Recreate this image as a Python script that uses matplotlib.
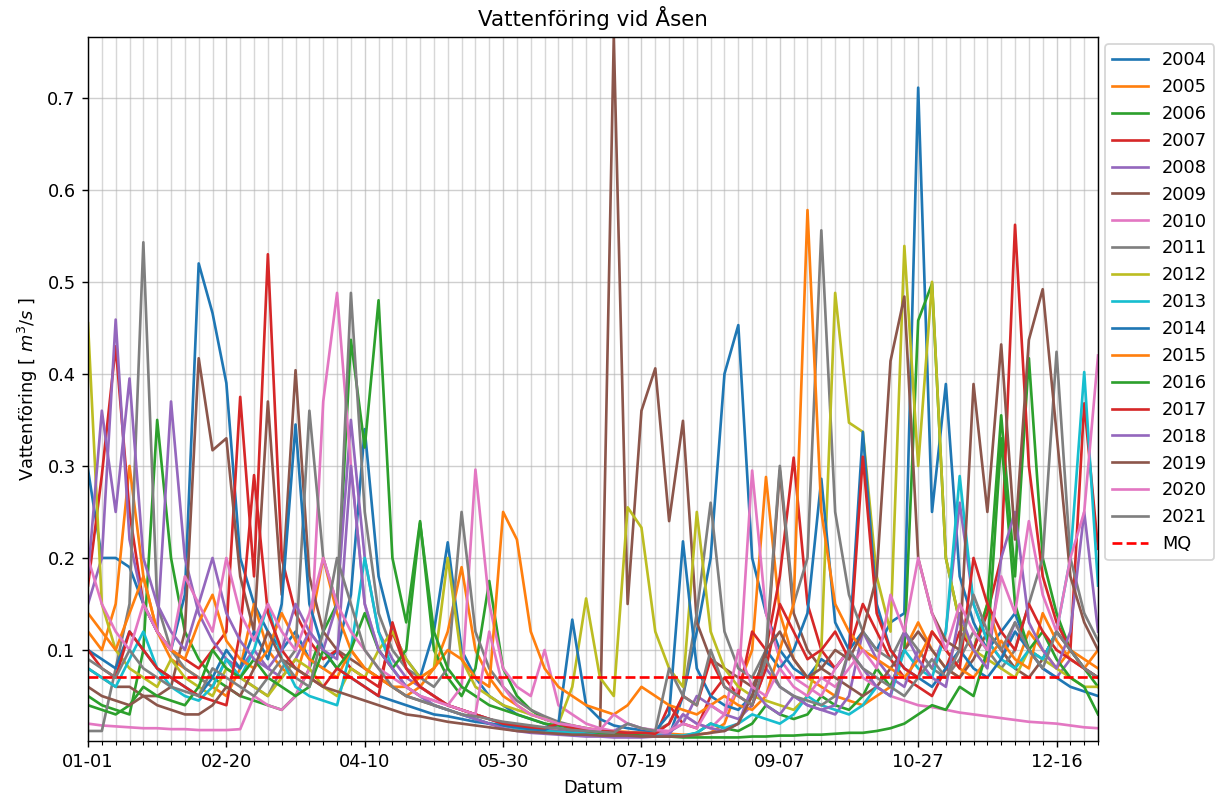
import matplotlib

matplotlib.use("Agg")
import matplotlib.pyplot as plt
import numpy as np
import pandas as pd
from matplotlib.ticker import MultipleLocator

OUTPUT_PNG = "out.png"

# day of year (0 = 01-01), one reading every 5 days
DAYS = list(range(0, 366, 5))
DATE_LABELS = list(pd.date_range("2004-01-01", periods=366).strftime("%m-%d"))

YEARS = [str(y) for y in range(2004, 2022)]

q2004 = [0.296, 0.20, 0.20, 0.19, 0.15, 0.12, 0.10, 0.16, 0.52, 0.466,
         0.39, 0.20, 0.15, 0.12, 0.10, 0.12, 0.09, 0.08, 0.10, 0.16,
         0.34, 0.18, 0.12, 0.09, 0.07, 0.12, 0.217, 0.10, 0.07, 0.05,
         0.04, 0.03, 0.025, 0.02, 0.015, 0.012, 0.010, 0.009, 0.008, 0.008,
         0.007, 0.006, 0.006, 0.05, 0.12, 0.20, 0.40, 0.453, 0.20, 0.14,
         0.10, 0.08, 0.07, 0.09, 0.08, 0.10, 0.12, 0.10, 0.13, 0.14,
         0.711, 0.25, 0.389, 0.18, 0.13, 0.10, 0.12, 0.14, 0.10, 0.09,
         0.12, 0.10, 0.08, 0.07]
q2005 = [0.12, 0.10, 0.15, 0.30, 0.18, 0.12, 0.09, 0.08, 0.07, 0.06,
         0.05, 0.08, 0.15, 0.10, 0.08, 0.07, 0.12, 0.20, 0.14, 0.10,
         0.08, 0.07, 0.06, 0.05, 0.06, 0.08, 0.12, 0.19, 0.10, 0.07,
         0.05, 0.04, 0.03, 0.025, 0.02, 0.018, 0.015, 0.013, 0.012, 0.011,
         0.010, 0.009, 0.009, 0.008, 0.008, 0.010, 0.020, 0.060, 0.10, 0.288,
         0.14, 0.09, 0.07, 0.06, 0.05, 0.045, 0.04, 0.05, 0.06, 0.10,
         0.13, 0.10, 0.08, 0.07, 0.10, 0.15, 0.10, 0.08, 0.12, 0.10,
         0.08, 0.10, 0.09, 0.08]
q2006 = [0.05, 0.04, 0.035, 0.03, 0.10, 0.35, 0.20, 0.12, 0.09, 0.07,
         0.06, 0.05, 0.045, 0.04, 0.035, 0.05, 0.08, 0.12, 0.15, 0.437,
         0.32, 0.48, 0.20, 0.13, 0.24, 0.10, 0.07, 0.05, 0.08, 0.175,
         0.08, 0.05, 0.035, 0.025, 0.02, 0.015, 0.012, 0.010, 0.009, 0.008,
         0.007, 0.007, 0.006, 0.006, 0.010, 0.020, 0.015, 0.012, 0.020, 0.040,
         0.030, 0.025, 0.030, 0.050, 0.040, 0.035, 0.050, 0.080, 0.060, 0.10,
         0.458, 0.498, 0.20, 0.13, 0.10, 0.15, 0.355, 0.18, 0.417, 0.20,
         0.14, 0.10, 0.08, 0.06]
q2007 = [0.17, 0.29, 0.43, 0.25, 0.15, 0.12, 0.10, 0.09, 0.08, 0.10,
         0.12, 0.375, 0.18, 0.53, 0.20, 0.14, 0.11, 0.09, 0.10, 0.08,
         0.07, 0.06, 0.12, 0.08, 0.06, 0.05, 0.04, 0.035, 0.03, 0.025,
         0.02, 0.018, 0.015, 0.013, 0.012, 0.011, 0.010, 0.009, 0.009, 0.008,
         0.008, 0.007, 0.04, 0.02, 0.015, 0.05, 0.07, 0.05, 0.12, 0.10,
         0.18, 0.309, 0.15, 0.10, 0.08, 0.10, 0.15, 0.12, 0.09, 0.07,
         0.06, 0.05, 0.08, 0.12, 0.10, 0.14, 0.20, 0.562, 0.30, 0.18,
         0.13, 0.10, 0.368, 0.21]
q2008 = [0.15, 0.20, 0.459, 0.22, 0.15, 0.12, 0.37, 0.20, 0.14, 0.11,
         0.09, 0.08, 0.10, 0.08, 0.07, 0.09, 0.12, 0.10, 0.15, 0.35,
         0.20, 0.12, 0.09, 0.07, 0.06, 0.05, 0.04, 0.035, 0.03, 0.025,
         0.02, 0.018, 0.015, 0.013, 0.012, 0.011, 0.010, 0.010, 0.012, 0.020,
         0.015, 0.012, 0.011, 0.020, 0.050, 0.040, 0.030, 0.025, 0.040, 0.080,
         0.06, 0.05, 0.04, 0.035, 0.03, 0.05, 0.12, 0.09, 0.07, 0.06,
         0.10, 0.08, 0.12, 0.26, 0.15, 0.11, 0.09, 0.13, 0.10, 0.08,
         0.07, 0.09, 0.08, 0.07]
q2009 = [0.08, 0.07, 0.06, 0.06, 0.05, 0.05, 0.06, 0.12, 0.417, 0.317,
         0.33, 0.18, 0.12, 0.37, 0.16, 0.404, 0.18, 0.12, 0.10, 0.09,
         0.08, 0.07, 0.06, 0.05, 0.045, 0.04, 0.035, 0.03, 0.025, 0.02,
         0.018, 0.015, 0.013, 0.012, 0.011, 0.010, 0.009, 0.009, 0.766, 0.15,
         0.36, 0.406, 0.24, 0.349, 0.13, 0.09, 0.08, 0.07, 0.06, 0.09,
         0.295, 0.14, 0.10, 0.08, 0.07, 0.06, 0.05, 0.06, 0.08, 0.10,
         0.12, 0.10, 0.08, 0.07, 0.09, 0.12, 0.10, 0.08, 0.07, 0.09,
         0.12, 0.10, 0.08, 0.07]
q2010 = [0.020, 0.018, 0.017, 0.016, 0.015, 0.015, 0.014, 0.014, 0.013, 0.013,
         0.013, 0.014, 0.050, 0.040, 0.035, 0.050, 0.080, 0.37, 0.488, 0.30,
         0.15, 0.10, 0.08, 0.06, 0.05, 0.045, 0.04, 0.06, 0.296, 0.15,
         0.08, 0.06, 0.05, 0.10, 0.04, 0.03, 0.02, 0.015, 0.012, 0.010,
         0.009, 0.008, 0.010, 0.030, 0.020, 0.015, 0.030, 0.060, 0.295, 0.14,
         0.09, 0.07, 0.06, 0.05, 0.08, 0.10, 0.07, 0.06, 0.05, 0.045,
         0.040, 0.038, 0.035, 0.032, 0.030, 0.028, 0.026, 0.024, 0.022, 0.021,
         0.020, 0.018, 0.016, 0.015]
q2011 = [0.012, 0.012, 0.08, 0.15, 0.543, 0.15, 0.10, 0.08, 0.07, 0.06,
         0.09, 0.07, 0.06, 0.05, 0.08, 0.10, 0.36, 0.20, 0.15, 0.488,
         0.25, 0.14, 0.10, 0.08, 0.07, 0.06, 0.08, 0.25, 0.12, 0.08,
         0.06, 0.045, 0.035, 0.028, 0.022, 0.018, 0.015, 0.012, 0.011, 0.010,
         0.010, 0.012, 0.020, 0.050, 0.14, 0.26, 0.12, 0.08, 0.07, 0.10,
         0.30, 0.15, 0.20, 0.556, 0.25, 0.16, 0.12, 0.10, 0.09, 0.12,
         0.10, 0.08, 0.07, 0.09, 0.12, 0.10, 0.08, 0.10, 0.15, 0.20,
         0.424, 0.20, 0.14, 0.11]
q2012 = [0.455, 0.15, 0.10, 0.08, 0.07, 0.06, 0.09, 0.07, 0.06, 0.05,
         0.08, 0.07, 0.06, 0.05, 0.07, 0.09, 0.08, 0.06, 0.05, 0.08,
         0.07, 0.10, 0.12, 0.09, 0.07, 0.08, 0.20, 0.09, 0.06, 0.05,
         0.04, 0.035, 0.03, 0.025, 0.02, 0.06, 0.156, 0.07, 0.05, 0.255,
         0.233, 0.12, 0.08, 0.06, 0.25, 0.12, 0.08, 0.06, 0.05, 0.045,
         0.04, 0.035, 0.05, 0.10, 0.488, 0.347, 0.337, 0.18, 0.12, 0.539,
         0.30, 0.50, 0.20, 0.13, 0.10, 0.09, 0.08, 0.07, 0.10, 0.09,
         0.08, 0.07, 0.06, 0.06]
q2013 = [0.08, 0.07, 0.06, 0.09, 0.12, 0.08, 0.06, 0.05, 0.045, 0.06,
         0.09, 0.07, 0.10, 0.15, 0.09, 0.06, 0.05, 0.045, 0.04, 0.10,
         0.20, 0.12, 0.08, 0.06, 0.05, 0.04, 0.035, 0.03, 0.025, 0.02,
         0.018, 0.015, 0.013, 0.012, 0.011, 0.010, 0.010, 0.009, 0.009, 0.008,
         0.008, 0.008, 0.007, 0.007, 0.010, 0.020, 0.015, 0.020, 0.030, 0.025,
         0.020, 0.030, 0.050, 0.040, 0.035, 0.030, 0.040, 0.060, 0.050, 0.10,
         0.08, 0.07, 0.12, 0.289, 0.15, 0.11, 0.09, 0.08, 0.10, 0.09,
         0.12, 0.20, 0.402, 0.17]
q2014 = [0.10, 0.09, 0.08, 0.12, 0.10, 0.08, 0.07, 0.06, 0.05, 0.07,
         0.10, 0.08, 0.12, 0.09, 0.15, 0.345, 0.15, 0.10, 0.08, 0.07,
         0.06, 0.05, 0.045, 0.04, 0.035, 0.03, 0.028, 0.025, 0.022, 0.02,
         0.018, 0.016, 0.014, 0.013, 0.02, 0.133, 0.04, 0.025, 0.018, 0.015,
         0.013, 0.012, 0.03, 0.218, 0.08, 0.05, 0.04, 0.035, 0.05, 0.10,
         0.08, 0.10, 0.14, 0.286, 0.13, 0.10, 0.337, 0.15, 0.10, 0.08,
         0.07, 0.06, 0.08, 0.10, 0.08, 0.07, 0.09, 0.12, 0.10, 0.08,
         0.07, 0.06, 0.055, 0.05]
q2015 = [0.14, 0.12, 0.10, 0.14, 0.18, 0.12, 0.10, 0.09, 0.13, 0.16,
         0.11, 0.09, 0.08, 0.10, 0.14, 0.11, 0.09, 0.08, 0.07, 0.10,
         0.08, 0.07, 0.06, 0.06, 0.07, 0.08, 0.10, 0.09, 0.07, 0.06,
         0.25, 0.22, 0.12, 0.08, 0.06, 0.05, 0.04, 0.035, 0.03, 0.04,
         0.06, 0.05, 0.04, 0.035, 0.03, 0.04, 0.05, 0.04, 0.035, 0.05,
         0.10, 0.15, 0.578, 0.25, 0.15, 0.12, 0.10, 0.09, 0.08, 0.07,
         0.09, 0.12, 0.10, 0.08, 0.07, 0.09, 0.11, 0.09, 0.08, 0.14,
         0.11, 0.09, 0.08, 0.10]
q2016 = [0.04, 0.035, 0.03, 0.04, 0.06, 0.05, 0.045, 0.04, 0.06, 0.10,
         0.08, 0.07, 0.09, 0.07, 0.06, 0.05, 0.06, 0.10, 0.08, 0.10,
         0.14, 0.10, 0.08, 0.10, 0.238, 0.12, 0.08, 0.06, 0.05, 0.04,
         0.035, 0.03, 0.025, 0.02, 0.018, 0.015, 0.012, 0.010, 0.009, 0.008,
         0.007, 0.006, 0.006, 0.005, 0.005, 0.005, 0.005, 0.005, 0.006, 0.006,
         0.007, 0.007, 0.008, 0.008, 0.009, 0.010, 0.010, 0.012, 0.015, 0.020,
         0.030, 0.040, 0.035, 0.060, 0.050, 0.10, 0.33, 0.15, 0.10, 0.12,
         0.09, 0.07, 0.06, 0.03]
q2017 = [0.10, 0.08, 0.07, 0.12, 0.10, 0.08, 0.07, 0.06, 0.05, 0.045,
         0.04, 0.12, 0.29, 0.14, 0.10, 0.08, 0.07, 0.06, 0.08, 0.07,
         0.06, 0.05, 0.13, 0.08, 0.06, 0.05, 0.04, 0.035, 0.03, 0.025,
         0.02, 0.018, 0.016, 0.015, 0.02, 0.015, 0.013, 0.012, 0.011, 0.010,
         0.010, 0.009, 0.02, 0.05, 0.04, 0.09, 0.06, 0.05, 0.04, 0.08,
         0.15, 0.12, 0.09, 0.10, 0.12, 0.09, 0.31, 0.14, 0.10, 0.08,
         0.07, 0.12, 0.10, 0.08, 0.20, 0.15, 0.12, 0.10, 0.15, 0.12,
         0.10, 0.09, 0.08, 0.07]
q2018 = [0.18, 0.36, 0.25, 0.395, 0.20, 0.15, 0.12, 0.10, 0.15, 0.20,
         0.14, 0.11, 0.09, 0.08, 0.10, 0.15, 0.12, 0.10, 0.09, 0.30,
         0.15, 0.10, 0.08, 0.06, 0.05, 0.04, 0.035, 0.03, 0.025, 0.02,
         0.015, 0.012, 0.010, 0.009, 0.008, 0.007, 0.006, 0.006, 0.005, 0.005,
         0.005, 0.006, 0.008, 0.03, 0.02, 0.015, 0.012, 0.02, 0.06, 0.04,
         0.03, 0.05, 0.04, 0.035, 0.04, 0.10, 0.08, 0.06, 0.05, 0.12,
         0.09, 0.07, 0.06, 0.14, 0.10, 0.08, 0.20, 0.25, 0.13, 0.10,
         0.08, 0.12, 0.25, 0.12]
q2019 = [0.06, 0.05, 0.045, 0.04, 0.05, 0.04, 0.035, 0.03, 0.03, 0.04,
         0.06, 0.05, 0.08, 0.12, 0.09, 0.08, 0.07, 0.06, 0.055, 0.05,
         0.045, 0.04, 0.035, 0.03, 0.028, 0.025, 0.022, 0.02, 0.018, 0.016,
         0.014, 0.012, 0.011, 0.010, 0.009, 0.008, 0.008, 0.007, 0.007, 0.007,
         0.006, 0.006, 0.006, 0.006, 0.008, 0.010, 0.012, 0.020, 0.050, 0.10,
         0.12, 0.09, 0.07, 0.08, 0.10, 0.09, 0.12, 0.18, 0.414, 0.484,
         0.20, 0.14, 0.11, 0.10, 0.389, 0.25, 0.432, 0.22, 0.437, 0.492,
         0.336, 0.18, 0.13, 0.10]
q2020 = [0.20, 0.15, 0.12, 0.10, 0.15, 0.12, 0.10, 0.18, 0.15, 0.12,
         0.20, 0.14, 0.11, 0.15, 0.12, 0.10, 0.14, 0.20, 0.15, 0.12,
         0.10, 0.08, 0.07, 0.06, 0.05, 0.045, 0.04, 0.035, 0.03, 0.12,
         0.06, 0.04, 0.03, 0.025, 0.02, 0.018, 0.015, 0.013, 0.03, 0.02,
         0.015, 0.013, 0.012, 0.02, 0.015, 0.04, 0.03, 0.10, 0.06, 0.05,
         0.08, 0.06, 0.05, 0.07, 0.06, 0.08, 0.10, 0.08, 0.16, 0.12,
         0.20, 0.14, 0.10, 0.15, 0.12, 0.10, 0.18, 0.14, 0.24, 0.16,
         0.12, 0.20, 0.25, 0.42]
q2021 = [0.09, 0.08, 0.07, 0.10, 0.08, 0.07, 0.06, 0.055, 0.05, 0.08,
         0.07, 0.06, 0.05, 0.07, 0.09, 0.07, 0.06, 0.12, 0.20, 0.15,
         0.10, 0.08, 0.06, 0.05, 0.045, 0.04, 0.035, 0.03, 0.028, 0.025,
         0.022, 0.02, 0.018, 0.016, 0.015, 0.013, 0.012, 0.011, 0.01, 0.02,
         0.015, 0.012, 0.08, 0.05, 0.04, 0.10, 0.06, 0.05, 0.04, 0.09,
         0.06, 0.05, 0.045, 0.04, 0.05, 0.10, 0.08, 0.07, 0.06, 0.05,
         0.07, 0.09, 0.07, 0.10, 0.16, 0.12, 0.10, 0.13, 0.10, 0.08,
         0.12, 0.10, 0.08, 0.07]

# mean discharge (MQ)
MQ = 0.0705

SERIES = [q2004, q2005, q2006, q2007, q2008, q2009, q2010, q2011, q2012,
          q2013, q2014, q2015, q2016, q2017, q2018, q2019, q2020, q2021]


def draw(ax):
    for year, values in zip(YEARS, SERIES):
        assert len(values) == len(DAYS), year
        ax.plot(DAYS, values, label=year, linewidth=1.5)

    ax.axhline(MQ, color="r", linestyle="--", linewidth=1.5, label="MQ")

    ax.set_xlim(0, 365)
    ax.set_ylim(0.0011, 0.766)

    major = list(range(0, 366, 50))
    ax.set_xticks(major, labels=[DATE_LABELS[d] for d in major])
    ax.xaxis.set_minor_locator(MultipleLocator(5))
    ax.grid(which="major", color="#b0b0b0", alpha=0.6)
    ax.grid(which="minor", axis="x", color="#b0b0b0", alpha=0.5)

    ax.set_title("Vattenföring vid Åsen")
    ax.set_xlabel("Datum")
    ax.set_ylabel("Vattenföring [ $m^3/s$ ]")
    ax.legend(loc="upper left", bbox_to_anchor=(1.0, 1.0), borderaxespad=0.4)


def main():
    fig = plt.figure(figsize=(1224 / 128, 798 / 128), dpi=128)
    ax = fig.add_axes([0.0719, 0.0714, 0.8252, 0.8822])
    draw(ax)
    fig.savefig(OUTPUT_PNG, dpi=128)
    print(f"Saved chart to: {OUTPUT_PNG}")


if __name__ == "__main__":
    main()
